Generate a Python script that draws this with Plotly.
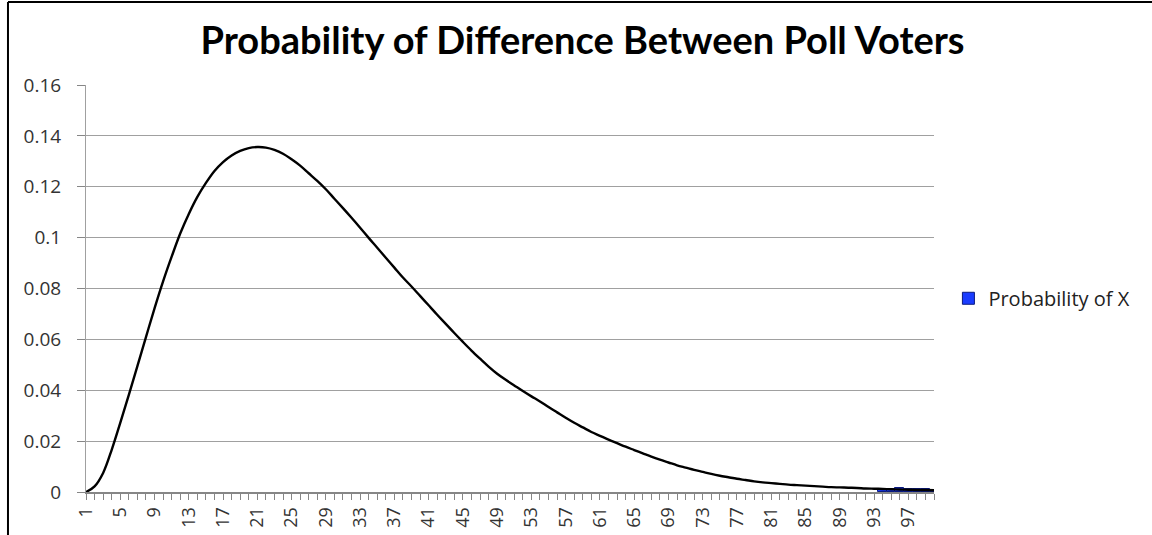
import plotly.graph_objects as go

categories = list(range(1, 101))
probability = [
    0.0, 0.0022, 0.0075, 0.0166, 0.0272, 0.0382, 0.0495, 0.0609, 0.0722, 0.0828,
    0.0925, 0.1016, 0.1093, 0.1160, 0.1215, 0.1262, 0.1297, 0.1323, 0.1341, 0.1352,
    0.1356, 0.1354, 0.1345, 0.1330, 0.1308, 0.1283, 0.1253, 0.1223, 0.1190, 0.1153,
    0.1116, 0.1078, 0.1039, 0.0999, 0.0960, 0.0921, 0.0882, 0.0843, 0.0808, 0.0771,
    0.0734, 0.0697, 0.0661, 0.0625, 0.0590, 0.0556, 0.0524, 0.0493, 0.0465, 0.0441,
    0.0419, 0.0397, 0.0376, 0.0356, 0.0334, 0.0313, 0.0292, 0.0272, 0.0254, 0.0236,
    0.0221, 0.0206, 0.0192, 0.0178, 0.0165, 0.0152, 0.0139, 0.0127, 0.0116, 0.0105,
    0.0096, 0.0087, 0.0079, 0.0071, 0.0064, 0.0058, 0.0052, 0.0047, 0.0042, 0.0038,
    0.0035, 0.0032, 0.0029, 0.0027, 0.0025, 0.0023, 0.0021, 0.0019, 0.0018, 0.0017,
    0.0016, 0.0014, 0.0013, 0.0012, 0.0011, 0.0010, 0.0009, 0.0008, 0.0008, 0.0007,
]
# blue marks visible near the end of the axis
blue_categories = [94, 95, 96, 97, 98, 99, 100]
blue_values = [0.0012, 0.0013, 0.0014, 0.0012, 0.0012, 0.0010, 0.0008]

tick_labels = list(range(1, 101, 4))
y_ticks = [0, 0.02, 0.04, 0.06, 0.08, 0.1, 0.12, 0.14, 0.16]
y_tick_text = ["0", "0.02", "0.04", "0.06", "0.08", "0.1", "0.12", "0.14", "0.16"]

fig = go.Figure()
fig.add_trace(go.Scatter(
    x=categories, y=probability, mode="lines",
    line=dict(color="black", width=2.4, shape="spline", smoothing=1.0),
    showlegend=False, hoverinfo="x+y",
))
fig.add_trace(go.Bar(
    x=blue_categories, y=blue_values, width=1.0,
    marker=dict(color="#1a3cff", line=dict(color="#0a1a80", width=1)),
    name="Probability of X",
))

fig.update_layout(
    width=1152, height=535,
    paper_bgcolor="white", plot_bgcolor="white",
    margin=dict(l=86, r=218, t=85, b=43, autoexpand=False),
    title=dict(
        text="<b>Probability of Difference Between Poll Voters</b>",
        x=(197 + 968) / 2 / 1152, xanchor="center",
        y=1 - 41 / 535, yanchor="middle",
        font=dict(family="Lato", size=38, color="black"),
    ),
    font=dict(family="Open Sans", color="#333333"),
    bargap=0,
    showlegend=True,
    legend=dict(
        x=1.017, xanchor="left", y=0.476, yanchor="middle",
        font=dict(family="Open Sans", size=20, color="#222222"),
        bgcolor="rgba(0,0,0,0)", itemwidth=30,
    ),
    xaxis=dict(
        range=[1, 100], tickmode="array", tickvals=tick_labels,
        ticktext=[str(t) for t in tick_labels], tickangle=-90,
        tickfont=dict(size=18, color="#333333"),
        ticks="outside", ticklen=6, tickcolor="#868686",
        minor=dict(dtick=1, tick0=1, ticks="outside", ticklen=6, tickcolor="#868686", showgrid=False),
        showline=True, linecolor="#868686", linewidth=2,
        showgrid=False, zeroline=False, automargin=False,
    ),
    yaxis=dict(
        range=[0, 0.16], tickmode="array", tickvals=y_ticks, ticktext=y_tick_text,
        tickfont=dict(size=19, color="#333333"),
        ticks="outside", ticklen=8, tickcolor="#868686",
        ticklabelstandoff=12,
        showline=True, linecolor="#a0a0a0", linewidth=1,
        showgrid=True, gridcolor="#a0a0a0", gridwidth=1,
        zeroline=False, automargin=False,
    ),
)

# chart frame edges (top and left) as in the reference
fig.add_shape(type="line", xref="paper", yref="paper",
              x0=-0.092, x1=1.26, y0=1.204, y1=1.204,
              line=dict(color="black", width=2))
fig.add_shape(type="line", xref="paper", yref="paper",
              x0=-0.092, x1=-0.092, y0=1.204, y1=-0.11,
              line=dict(color="black", width=2))

fig.write_html("out.html", config={"displayModeBar": False})

# remove the browser's default page margin so the figure sits at the top-left corner
with open("out.html", "r", encoding="utf-8") as f:
    html = f.read()
html = html.replace("<body>", '<body style="margin:0;padding:0;">', 1)
with open("out.html", "w", encoding="utf-8") as f:
    f.write(html)
